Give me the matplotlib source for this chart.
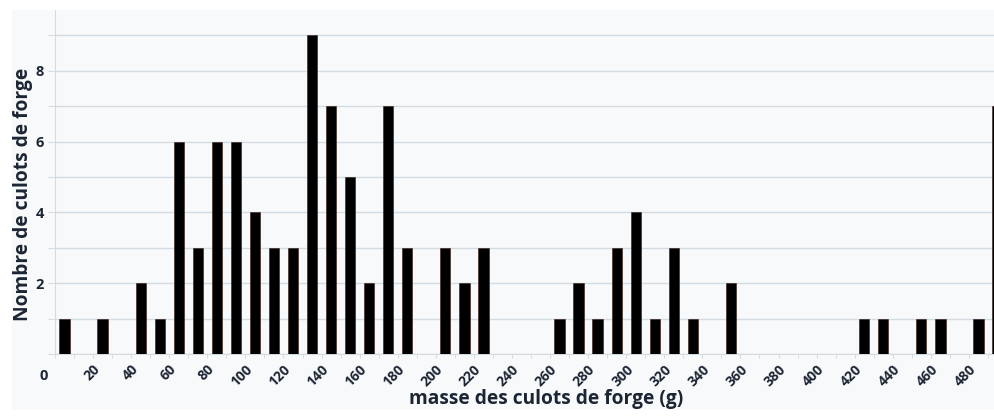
import matplotlib.pyplot as plt
from matplotlib.patches import Rectangle
from matplotlib.ticker import MultipleLocator, FuncFormatter

# classes de masse (centre de classe, g) et effectifs
masses = [5, 25, 45, 55, 65, 75, 85, 95, 105, 115, 125, 135, 145, 155, 165,
          175, 185, 205, 215, 225, 265, 275, 285, 295, 305, 315, 325, 335,
          355, 425, 435, 455, 465, 485, 495]
counts = [1, 1, 2, 1, 6, 3, 6, 6, 4, 3, 3, 9, 7, 5, 2,
          7, 3, 3, 2, 3, 1, 2, 1, 3, 4, 1, 3, 1,
          2, 1, 1, 1, 1, 1, 7]
xtick_vals = list(range(20, 490, 20))

text_col = '#1c2533'
grid_col = '#d3dbe3'
panel_col = '#f8f9fb'

plt.rcParams['font.family'] = ['Open Sans', 'DejaVu Sans']

fig = plt.figure(figsize=(9.95, 4.16), dpi=100)
fig.patches.append(Rectangle((12 / 995, 6 / 416), 1, 400 / 416,
                             transform=fig.transFigure, facecolor=panel_col,
                             edgecolor='none', zorder=-5))

# axe volontairement plus large que l'image (graphique rogné à droite)
ax = fig.add_axes([55 / 995, 1 - 354 / 416, 952 / 995, 344 / 416])
ax.set_facecolor(panel_col)
ax.bar(masses, counts, width=5.4, color='black', edgecolor='#3a1a10',
       linewidth=0.4, zorder=3)

ax.set_xlim(0, 500)
ax.set_ylim(0, 9.72)

ax.yaxis.set_major_locator(MultipleLocator(1))
ax.yaxis.set_major_formatter(FuncFormatter(
    lambda v, p: f"{int(v)}" if v > 0 and int(v) % 2 == 0 else ""))
ax.set_xticks(xtick_vals, [str(v) for v in xtick_vals], rotation=45,
              ha='right', va='top', rotation_mode='anchor',
              fontweight='bold')
ax.xaxis.set_minor_locator(MultipleLocator(10))

ax.grid(axis='y', color=grid_col, linewidth=1.0, zorder=0)
for s in ['top', 'right']:
    ax.spines[s].set_visible(False)
ax.spines['left'].set_color(grid_col)
ax.spines['bottom'].set_color(grid_col)

ax.tick_params(axis='y', length=5, color=grid_col, labelsize=10.5,
               labelcolor=text_col, pad=3)
ax.tick_params(axis='x', which='both', length=3, color=grid_col,
               labelsize=10, labelcolor=text_col, pad=3)
for lab in ax.get_yticklabels():
    lab.set_fontweight('bold')

ax.annotate('0', xy=(0, 0), xycoords='data', xytext=(-5, -11),
            textcoords='offset points', ha='right', va='top',
            fontsize=10.5, fontweight='bold', color=text_col)

fig.text(23 / 995, 1 - 194 / 416, 'Nombre de culots de forge',
         rotation=90, ha='center', va='center', fontsize=13.8,
         fontweight='bold', color=text_col)
fig.text(546 / 995, 1 - 399 / 416, 'masse des culots de forge (g)',
         ha='center', va='center', fontsize=13.8, fontweight='bold',
         color=text_col)

fig.savefig('out.png', dpi=100, facecolor='white')
